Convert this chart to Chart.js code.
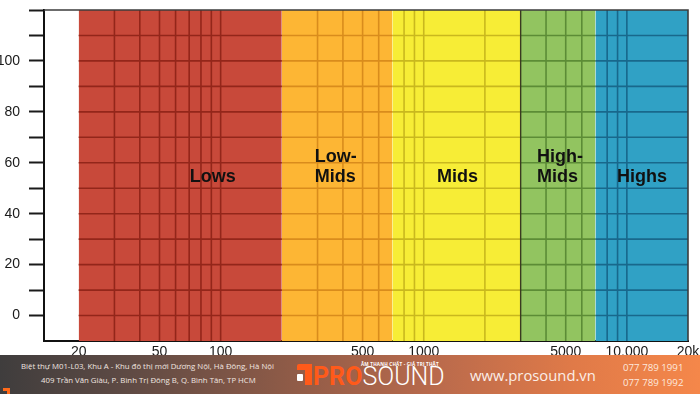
<!DOCTYPE html>
<html>
<head>
<meta charset="utf-8">
<script src="https://cdn.jsdelivr.net/npm/chart.js@4/dist/chart.umd.min.js"></script>
<style>
  html, body { margin: 0; padding: 0; background: #ffffff; }
  #wrap { position: relative; width: 700px; height: 394px; overflow: hidden; background: #fff; }
  #c { position: absolute; left: 0; top: 0; }
  #footer { position: absolute; left: 0; top: 355px; width: 700px; height: 39px;
    background: linear-gradient(90deg, #3f3d3d 0%, #5e4a44 18%, #8c5a47 40%, #b96a4c 62%, #e07a48 82%, #f5874a 100%);
    font-family: "Open Sans", "Noto Sans", sans-serif; color: #f1e6e0; }
  .abs { position: absolute; white-space: nowrap; }
</style>
</head>
<body>
<div id="wrap">
  <canvas id="c" width="700" height="394"></canvas>
  <div id="footer">
    <div class="abs" style="left:21px; top:6px; font-size:7.8px;">Biệt thự M01-L03, Khu A - Khu đô thị mới Dương Nội, Hà Đông, Hà Nội</div>
    <div class="abs" style="left:41px; top:20px; font-size:7.8px;">409 Trần Văn Giàu, P. Bình Trị Đông B, Q. Bình Tân, TP HCM</div>
    <div class="abs" style="left:3px; top:33px; width:7px; height:3px; background:#ff6a1a;"></div>
    <div class="abs" style="left:7px; top:33px; width:3px; height:6px; background:#ff6a1a;"></div>
    <div class="abs" style="left:297px; top:9px; width:15px; height:6px; background:#ff5a1a; border-radius:2px 2px 0 0;"></div>
    <div class="abs" style="left:305px; top:9px; width:7px; height:21px; background:#ff5a1a;"></div>
    <div class="abs" style="left:297px; top:19px; width:6px; height:7px; background:#ffffff; border-radius:1px;"></div>
    <div class="abs" style="left:361px; top:6px; font-size:4.6px; font-weight:bold; color:#fff; letter-spacing:0.2px;">ÂM THANH CHẤT - GIÁ TRỊ THẬT</div>
    <div class="abs" style="left:313px; top:11px; font-size:25px; line-height:22px; font-family:'Liberation Sans Narrow','Roboto',sans-serif;"><span style="color:#ff5a1a; font-weight:bold;">PRO</span><span style="color:#ffffff; font-weight:300;">SOUND</span></div>
    <div class="abs" style="left:470px; top:10px; font-size:14.8px; color:#fbeee8;">www.prosound.vn</div>
    <div class="abs" style="left:623px; top:6px; font-size:9.7px; color:#fde9df;">077 789 1991</div>
    <div class="abs" style="left:623px; top:21px; font-size:9.7px; color:#fde9df;">077 789 1992</div>
  </div>
</div>
<script>
// ---- data ----
const bandNames   = ['Lows', 'Low-\nMids', 'Mids', 'High-\nMids', 'Highs'];
const bandStarts  = [20, 200, 700, 3000, 7000];
const bandEnds    = [200, 700, 3000, 7000, 20000];
const bandLabelHz = [70.5, 291, 1161, 3606, 8936];
const bandLabelLevel = 52.5;
const gridHz = [30, 40, 50, 60, 70, 80, 90, 100, 300, 400, 500, 600, 800, 900, 1000, 2000, 4000, 5000, 6000, 8000, 9000, 10000];
const darkEdgesHz = [3000];
const gridLevels = [0, 10, 20, 30, 40, 50, 60, 70, 80, 90, 100, 110];
const xTickValues = [20, 50, 100, 500, 1000, 5000, 10000, 20000];
const xTickLabels = ['20', '50', '100', '500', '1000', '5000', '10,000', '20k'];
const yMinLevel = -10, yMaxLevel = 120;
const xMinHz = 13.5, xMaxHz = 20000;

// ---- styles ----
const bandFill = ['#c8493a', '#fdb634', '#f7ed36', '#92c460', '#30a1c5'];
const bandGrid = ['#93261a', '#d98c1c', '#c9b81e', '#5c8c36', '#18688c'];

const datasets = [];
bandStarts.forEach((s, i) => {
  datasets.push({
    data: [{x: s, y: yMaxLevel}, {x: bandEnds[i], y: yMaxLevel}],
    showLine: true, fill: 'start', backgroundColor: bandFill[i],
    borderWidth: 0, pointRadius: 0, order: 3
  });
});
bandStarts.forEach((s, i) => {
  const e = bandEnds[i];
  const pts = [];
  gridHz.filter(v => v > s && v < e).forEach(v => {
    pts.push({x: v, y: yMinLevel}, {x: v, y: yMaxLevel}, {x: v, y: null});
  });
  gridLevels.forEach(l => {
    pts.push({x: s, y: l}, {x: e, y: l}, {x: e, y: null});
  });
  datasets.push({
    data: pts, showLine: true, spanGaps: false, borderColor: bandGrid[i],
    borderWidth: 1.6, pointRadius: 0, order: 2
  });
});
{
  const pts = [];
  darkEdgesHz.forEach(v => pts.push({x: v, y: yMinLevel}, {x: v, y: yMaxLevel}, {x: v, y: null}));
  datasets.push({ data: pts, showLine: true, spanGaps: false, borderColor: '#3a3a20', borderWidth: 1.4, pointRadius: 0, order: 1 });
  datasets.push({
    data: [{x: xMinHz, y: yMaxLevel}, {x: xMaxHz, y: yMaxLevel}, {x: xMaxHz, y: yMinLevel}],
    showLine: true, borderColor: '#3c3c3c', borderWidth: 1.6, pointRadius: 0, order: 0, clip: false
  });
}

const bandLabelPlugin = {
  id: 'bandLabels',
  afterDatasetsDraw(chart) {
    const ctx = chart.ctx, xs = chart.scales.x, ys = chart.scales.y;
    ctx.save();
    ctx.fillStyle = '#111';
    ctx.font = 'bold 18px "Liberation Sans", Arial, sans-serif';
    ctx.textAlign = 'left';
    ctx.textBaseline = 'alphabetic';
    bandNames.forEach((name, i) => {
      const lines = name.split('\n');
      const x = xs.getPixelForValue(bandLabelHz[i]);
      const yBase = ys.getPixelForValue(bandLabelLevel);
      lines.forEach((ln, k) => {
        ctx.fillText(ln, x, yBase - (lines.length - 1 - k) * 20);
      });
    });
    ctx.restore();
  }
};

new Chart(document.getElementById('c'), {
  type: 'scatter',
  data: { datasets },
  options: {
    responsive: false, animation: false, devicePixelRatio: 1,
    layout: { padding: { top: 10, right: 12, left: 0, bottom: 0 } },
    plugins: { legend: { display: false }, tooltip: { enabled: false } },
    scales: {
      x: {
        type: 'logarithmic', min: xMinHz, max: xMaxHz,
        afterBuildTicks: (ax) => { ax.ticks = xTickValues.map(v => ({ value: v })); },
        afterFit: (ax) => { ax.height = 53; ax.paddingLeft = 0; ax.paddingRight = 0; },
        grid: { display: true, drawOnChartArea: false, drawTicks: false },
        border: { display: true, color: '#111', width: 2 },
        ticks: {
          autoSkip: false, maxRotation: 0, padding: 3, color: '#1a1a1a',
          font: { family: '"Liberation Sans", Arial, sans-serif', size: 14 },
          callback: (v) => { const i = xTickValues.indexOf(v); return i >= 0 ? xTickLabels[i] : ''; }
        }
      },
      y: {
        type: 'linear', min: yMinLevel, max: yMaxLevel,
        afterFit: (ax) => { ax.width = 44; ax.paddingTop = 0; ax.paddingBottom = 0; },
        grid: { display: true, drawOnChartArea: false, drawTicks: true, tickLength: 15, tickWidth: 2,
          tickColor: (c) => (c.tick && c.tick.value === yMinLevel) ? 'rgba(0,0,0,0)' : '#1a1a1a' },
        border: { display: true, color: '#111', width: 2 },
        ticks: {
          stepSize: 10, padding: 9, color: '#1a1a1a',
          font: { family: '"Liberation Sans", Arial, sans-serif', size: 14 },
          callback: (v) => (v >= 0 && v <= 100 && v % 20 === 0) ? String(v) : ''
        }
      }
    }
  },
  plugins: [bandLabelPlugin]
});
</script>
</body>
</html>
